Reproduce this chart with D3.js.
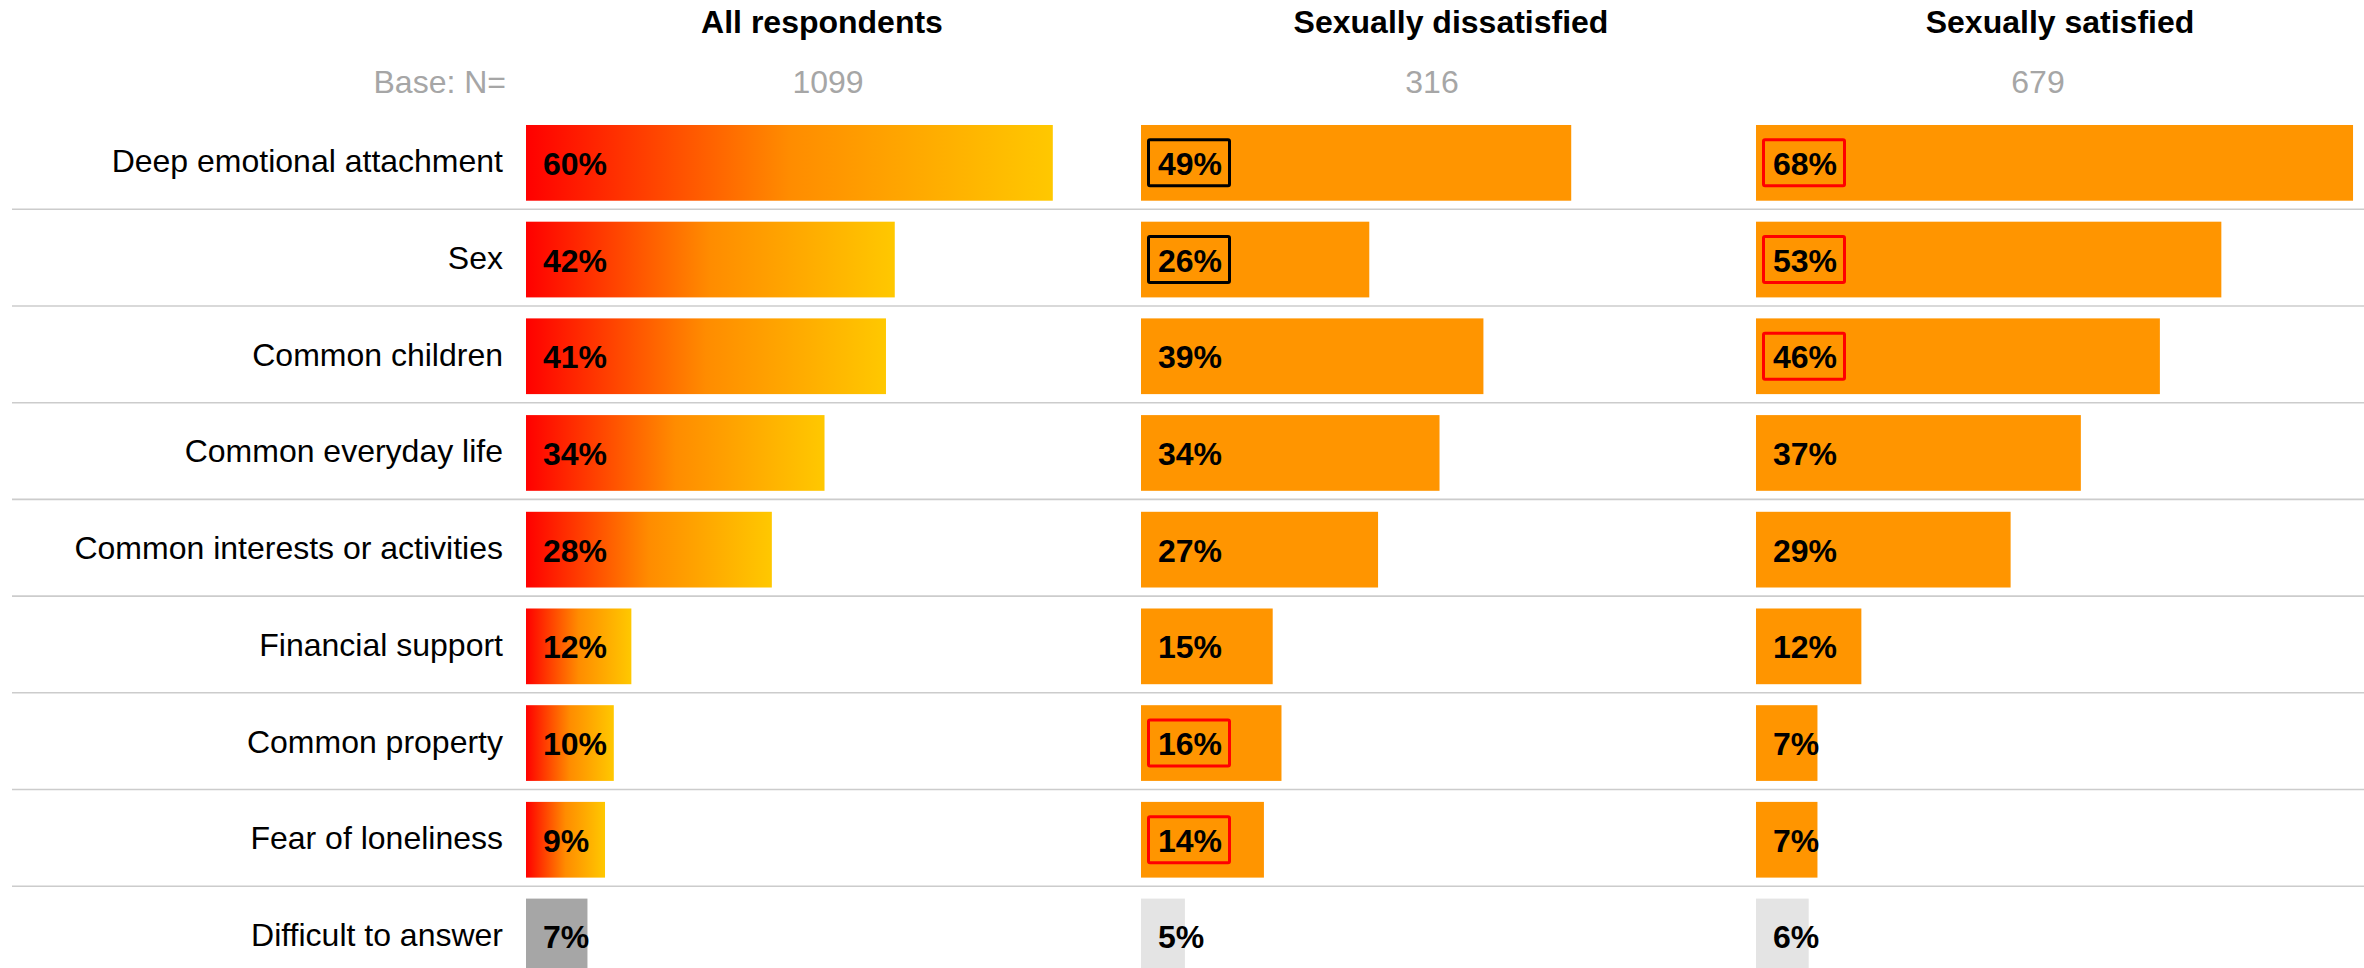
<!DOCTYPE html>
<html>
<head>
<meta charset="utf-8">
<script src="https://cdn.jsdelivr.net/npm/d3@7"></script>
<style>
  html, body { margin: 0; padding: 0; background: #ffffff; }
  svg { display: block; font-family: "Liberation Sans", Arial, sans-serif; }
</style>
</head>
<body>
<svg id="chart" width="2364" height="968"></svg>
<script>
// ---------- DATA ----------
const categories = [
  "Deep emotional attachment",
  "Sex",
  "Common children",
  "Common everyday life",
  "Common interests or activities",
  "Financial support",
  "Common property",
  "Fear of loneliness",
  "Difficult to answer"
];
const groups = ["All respondents", "Sexually dissatisfied", "Sexually satisfied"];
const baseN = [1099, 316, 679];
const allRespondents = [60, 42, 41, 34, 28, 12, 10, 9, 7];
const sexuallyDissatisfied = [49, 26, 39, 34, 27, 15, 16, 14, 5];
const sexuallySatisfied = [68, 53, 46, 37, 29, 12, 7, 7, 6];
// highlight boxes: "" = none, "black" / "red"
const dissatisfiedHighlight = ["black", "black", "", "", "", "", "red", "red", ""];
const satisfiedHighlight = ["red", "red", "red", "", "", "", "", "", ""];
const allHighlight = ["", "", "", "", "", "", "", "", ""];

const seriesValues = [allRespondents, sexuallyDissatisfied, sexuallySatisfied];
const seriesHighlight = [allHighlight, dissatisfiedHighlight, satisfiedHighlight];

// ---------- LAYOUT ----------
const headerOffset = [296, 310, 304];
const baseOffset = [302, 291, 282];

const svg = d3.select("#chart");

const defs = svg.append("defs");
const grad = defs.append("linearGradient")
  .attr("id", "redYellow")
  .attr("x1", "0%").attr("x2", "100%").attr("y1", "0%").attr("y2", "0%");
grad.append("stop").attr("offset", "0%").attr("stop-color", "#ff0000");
grad.append("stop").attr("offset", "50%").attr("stop-color", "#ff8c00");
grad.append("stop").attr("offset", "100%").attr("stop-color", "#ffc800");

const xGroup = d3.scaleBand().domain(groups).range([526, 526 + 3 * 615]);
const x = d3.scaleLinear().domain([0, 100]).range([0, 878]);
const y = d3.scaleBand().domain(categories)
  .range([114.5, 114.5 + 9 * 96.7])
  .paddingInner(0.217).paddingOuter(0.1085);
const bw = y.bandwidth();

// separators
svg.append("g").selectAll("line")
  .data(categories.slice(0, categories.length - 1))
  .join("line")
  .attr("x1", 12).attr("x2", 2364)
  .attr("y1", d => y(d) + bw + 8.6)
  .attr("y2", d => y(d) + bw + 8.6)
  .attr("stroke", "#cccccc")
  .attr("stroke-width", 1.6);

// headers
svg.append("g").selectAll("text")
  .data(groups)
  .join("text")
  .attr("x", (d, i) => xGroup(d) + headerOffset[i])
  .attr("y", 33)
  .attr("text-anchor", "middle")
  .attr("font-size", 32)
  .attr("font-weight", "bold")
  .attr("fill", "#000")
  .text(d => d);

// base N
svg.append("text")
  .attr("x", 506).attr("y", 93)
  .attr("text-anchor", "end")
  .attr("font-size", 32)
  .attr("fill", "#a6a6a6")
  .text("Base: N=");
svg.append("g").selectAll("text")
  .data(baseN)
  .join("text")
  .attr("x", (d, i) => xGroup(groups[i]) + baseOffset[i])
  .attr("y", 93)
  .attr("text-anchor", "middle")
  .attr("font-size", 32)
  .attr("fill", "#a6a6a6")
  .text(d => d);

// category labels
svg.append("g").selectAll("text")
  .data(categories)
  .join("text")
  .attr("x", 503)
  .attr("y", d => y(d) + bw / 2 + 9.5)
  .attr("text-anchor", "end")
  .attr("font-size", 32)
  .attr("fill", "#000")
  .text(d => d);

// bars per group
groups.forEach((g, gi) => {
  const x0 = xGroup(g);
  const rows = categories.map((c, i) => ({
    cat: c, v: seriesValues[gi][i], hl: seriesHighlight[gi][i],
    last: i === categories.length - 1
  }));
  const gg = svg.append("g");
  gg.selectAll("rect.bar")
    .data(rows)
    .join("rect")
    .attr("class", "bar")
    .attr("x", x0)
    .attr("y", d => y(d.cat))
    .attr("width", d => x(d.v))
    .attr("height", bw)
    .attr("fill", d => d.last ? (gi === 0 ? "#a6a6a6" : "#e4e4e4")
                             : (gi === 0 ? "url(#redYellow)" : "#ff9500"));

  gg.selectAll("rect.box")
    .data(rows.filter(d => d.hl !== ""))
    .join("rect")
    .attr("class", "box")
    .attr("x", x0 + 7.5)
    .attr("y", d => y(d.cat) + bw / 2 - 23)
    .attr("width", 81)
    .attr("height", 46)
    .attr("rx", 1.5)
    .attr("fill", "none")
    .attr("stroke", d => d.hl === "red" ? "#ff0000" : "#000000")
    .attr("stroke-width", 3);

  gg.selectAll("text.val")
    .data(rows)
    .join("text")
    .attr("class", "val")
    .attr("x", x0 + 17)
    .attr("y", d => y(d.cat) + bw / 2 + 12)
    .attr("font-size", 32)
    .attr("font-weight", "bold")
    .attr("fill", "#000")
    .text(d => d.v + "%");
});
</script>
</body>
</html>
